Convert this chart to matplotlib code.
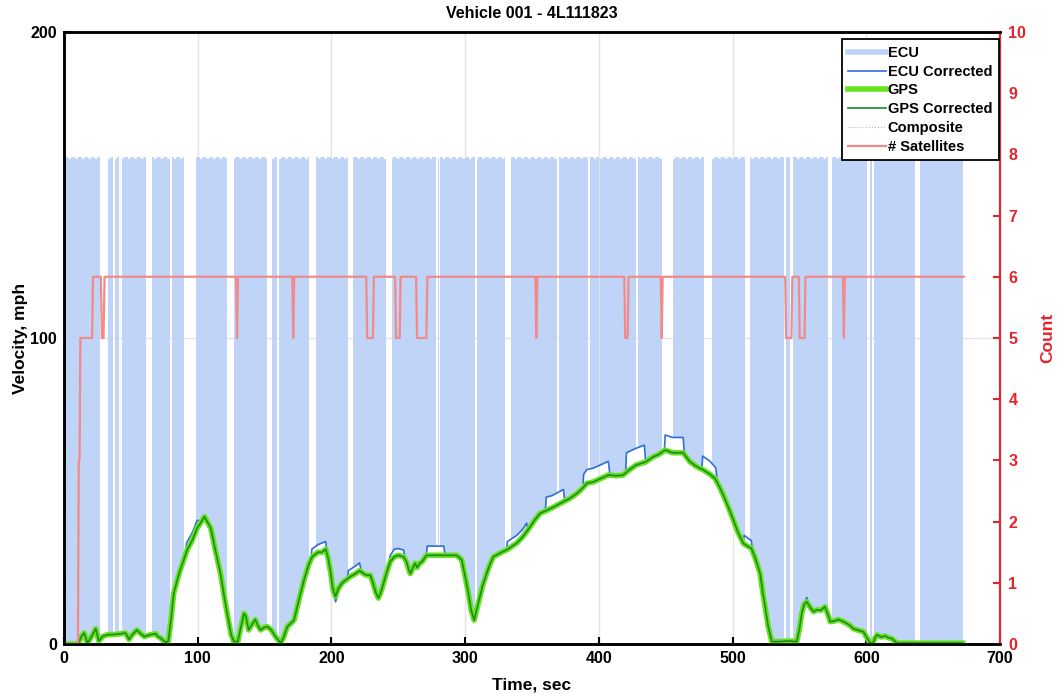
import numpy as np
import matplotlib
matplotlib.use('Agg')
from matplotlib import pyplot as plt
from matplotlib.path import Path
from matplotlib.patches import PathPatch

plt.rcParams['font.family'] = ['Liberation Sans', 'DejaVu Sans']
plt.rcParams['font.weight'] = 'bold'

# GPS speed trace (time [s], speed [mph])
gps = [(0, 0), (10, 0), (11, 0.5), (13, 2.5), (15, 3.6), (17.5, 0.3), (20, 2), (23.7, 5),
       (26, 1), (29, 2.5), (32, 3), (40, 3.2), (46, 3.6), (48.6, 1.5), (51, 3), (54.5, 4.6),
       (57, 3.5), (60, 2.4), (64, 3), (68.6, 3.4), (70, 2.5), (72, 2), (76, 0.5), (78, 1),
       (80, 8), (82, 16.6), (86, 23), (92, 30.7), (96, 34), (99.5, 37.9), (102, 39.5),
       (105, 41.6), (107, 40), (109.7, 37.9), (113, 31), (117, 23), (120, 15), (122, 10),
       (125, 3), (127, 0.8), (130, 0.8), (132, 5), (134.6, 10), (136, 9), (138, 4.6),
       (140, 6), (143, 8), (145, 6), (147, 4.6), (150, 5.5), (152, 5.7), (155, 4.6),
       (158, 2.5), (162, 0.3), (164, 2), (167, 5.7), (169, 6.5), (172, 7.8), (176, 15),
       (179.5, 21), (183, 26), (185.6, 28.5), (190, 30), (193, 30), (195.7, 31), (197.5, 28),
       (199.5, 23), (201, 18), (203, 15.5), (205, 18), (208, 20), (214, 22), (218, 23),
       (221, 24), (224, 23), (226, 22.5), (229, 22.5), (231, 20), (233, 17), (235, 15),
       (237, 17), (239, 20), (241, 23), (244, 27), (247, 28.5), (250, 29), (254, 28.5),
       (256, 27), (258, 24), (259, 23), (261, 25), (262.5, 26.4), (264, 25), (266, 26.4),
       (268, 27), (271, 29), (280, 29), (293.7, 29), (297.4, 27.5), (300, 22), (302.4, 16.6),
       (304.5, 11), (306.7, 7.8), (308.5, 11), (311, 15.5), (313, 19), (316, 23),
       (318.5, 26), (321, 28.5), (326, 29.7), (332, 31), (338.6, 33), (343, 35),
       (348.6, 38.3), (352, 40.5), (356, 42.7), (365, 44.5), (373.5, 46.5), (378, 47.5),
       (383.5, 49.2), (388, 51), (391, 52.5), (396, 53), (401, 54), (407, 55.2), (413, 55),
       (418, 55.2), (423, 57), (428, 58.5), (435, 59.5), (440.8, 61.2), (445, 62),
       (449.5, 63.4), (455, 62.5), (463, 62.5), (468, 59.6), (473, 58), (478, 56.9),
       (483, 55.5), (487, 54), (490, 51.5), (493, 48.7), (497, 44.5), (500.6, 40.5),
       (504, 36.5), (508, 32.9), (511, 32), (514, 31.3), (517, 28), (520.6, 23),
       (522.5, 17), (524.3, 12.2), (526.5, 6), (529.3, 0.8), (535, 0.8), (541, 1),
       (548, 0.8), (550, 5), (551.7, 10), (553.5, 13), (555.5, 13.8), (558, 12),
       (560.5, 10.6), (563.5, 11.2), (566, 11), (569, 12.2), (571, 10), (573, 7.3),
       (576, 7.5), (579, 8), (582, 7.5), (585, 6.8), (588, 6), (590, 5.1), (594, 4.5),
       (597.8, 4), (600.5, 2), (602.8, 0.3), (605, 0.3), (606.5, 2), (608, 3), (611, 2.3),
       (614, 2.6), (617, 2), (619, 1.8), (623, 0.3), (672, 0.3)]

# stretches where the corrected ECU speed departs from GPS
ecu_bumps = [
    [(91, 30.3), (91.6, 33), (96, 36.5), (99.5, 40.4), (101, 40.3)],
    [(184.8, 27.8), (185.3, 31), (190, 32.5), (195.7, 33.5), (196.6, 30)],
    [(202, 16.5), (203, 13.8), (204, 15)],
    [(212, 21.4), (212.6, 24), (218, 25.5), (221, 26.5), (222.3, 24)],
    [(242, 24.3), (242.6, 26.5), (244, 29), (247, 31), (250, 31.2), (254, 30.7), (255, 28)],
    [(271, 29), (271.6, 32), (284, 32), (285, 29)],
    [(331, 30.8), (331.6, 33.5), (338.6, 35.5), (343, 37.5), (346, 39.5), (346.7, 37.2)],
    [(360, 43.5), (360.6, 48), (365, 48.5), (373.5, 50.5), (374.5, 46.7)],
    [(388, 51), (388.6, 55.5), (391, 57), (396, 57.5), (401, 58.5), (407, 59.7), (408.3, 55.2)],
    [(420, 55.9), (420.6, 62.5), (428, 64), (434, 65), (435, 59.5)],
    [(449, 63.3), (449.6, 68.3), (455, 67.5), (463, 67.5), (464, 61.9)],
    [(477, 57.1), (477.6, 61.4), (483, 59.8), (487.5, 57.5), (488.5, 52.8)],
    [(508, 32.9), (508.6, 35.5), (514, 33.8), (515, 30.2)],
    [(554.3, 13.6), (555.5, 15.2), (556.7, 13.4)],
]

# raw ECU reads 255 km/h (158.4 mph) in these time bands
ecu_glitch = 158.4
ecu_bands = [(0, 27), (33, 36.5), (38, 41), (43, 61), (65.5, 79), (81, 90), (98.5, 122),
             (127, 151.5), (155.5, 159.5), (160.5, 183.5), (188.5, 212), (216, 241),
             (245, 278.5), (279.5, 280.5), (281.5, 307.5), (308.5, 330), (334, 369),
             (370, 392), (393, 400), (401, 428), (429, 447), (455.5, 478.5), (484.5, 509),
             (513, 538.5), (540, 543), (545, 571.5), (574.5, 600.5), (603, 604.5),
             (605.5, 636.5), (640, 672)]

# number of satellites
sat_time = [0, 10.4, 11.0, 11.6, 12.2, 21.0, 21.6, 27.5, 28.3, 29.5, 30.3,
            128.7, 129.4, 130.1, 170.7, 171.4, 172.1, 226.0, 226.7, 231.0, 231.7,
            247.6, 248.3, 251.0, 251.7, 263.3, 264.0, 271.0, 271.7, 352.5, 353.2, 354.0,
            419.0, 419.7, 421.5, 422.2, 446.3, 447.0, 447.7, 539.3, 540.0, 544.0, 544.7,
            549.5, 550.2, 553.8, 554.5, 582.5, 583.2, 583.9, 673]
sat_count = [0, 0, 3, 3, 5, 5, 6, 6, 5, 5, 6,
             6, 5, 6, 6, 5, 6, 6, 5, 5, 6,
             6, 5, 5, 6, 6, 5, 5, 6, 6, 5, 6,
             6, 5, 5, 6, 6, 5, 6, 6, 5, 5, 6,
             6, 5, 5, 6, 6, 5, 6, 6]

gps_t, gps_v = np.array(gps).T
in_bump = lambda t: any(seg[0][0] <= t <= seg[-1][0] for seg in ecu_bumps)
ecu = [p for p in gps if not in_bump(p[0])] + [p for seg in ecu_bumps for p in seg]
ecu_t, ecu_v = np.array(sorted(ecu)).T

red = '#e3242b'
c_ecu = '#bfd4f7'

fig = plt.figure(figsize=(10.57, 6.94), dpi=100)
ax = fig.add_axes([0.0606, 0.072, 0.8855, 0.882])
ax2 = ax.twinx()

ax.set_axisbelow(True)
ax.grid(True, color='#e4e4e4', lw=1)

# ECU raw: glitch spikes fill the band between the true speed and 158.4 mph
verts, codes = [], []
for t0, t1 in ecu_bands:
    verts += [(t0, -10), (t1, -10), (t1, 170), (t0, 170), (t0, -10)]
    codes += [Path.MOVETO, Path.LINETO, Path.LINETO, Path.LINETO, Path.CLOSEPOLY]
clip = PathPatch(Path(verts, codes), transform=ax.transData, fc='none', ec='none')

fill = ax.fill_between(ecu_t, ecu_v, ecu_glitch, color=c_ecu, lw=0, zorder=1)
fill.set_clip_path(clip)
# rounded tops of the individual spikes
teeth, = ax.plot([0, 672], [ecu_glitch, ecu_glitch], color=c_ecu, lw=3.5,
                 dashes=(0.9, 0.45), zorder=1)
teeth.set_clip_path(clip)
h_ecu, = ax.plot([], [], color=c_ecu, lw=4, label='ECU')

h_ecuc, = ax.plot(ecu_t, ecu_v, color='#2f6fd8', lw=1.2, zorder=3, label='ECU Corrected')
h_comp, = ax.plot(gps_t, gps_v, ':', color='#b8b8b8', lw=0.8, zorder=2, label='Composite')
h_gps, = ax.plot(gps_t, gps_v, color='#66e21e', lw=4, zorder=4, label='GPS')
h_gpsc, = ax.plot(gps_t, gps_v, color='#1d8a22', lw=1.2, zorder=5, label='GPS Corrected')

h_sat, = ax2.plot(sat_time, sat_count, color='#f28a8a', lw=1.6, label='# Satellites')

ax.set_xlim(0, 700)
ax.set_ylim(0, 200)
ax.set_xticks(range(0, 701, 100))
ax.set_yticks([0, 100, 200])
ax2.set_ylim(0, 10)
ax2.set_yticks(range(0, 11))

ax.tick_params(direction='in', length=5, width=1.5, labelsize=11.5, pad=5)
ax2.tick_params(direction='in', length=5, width=1.5, labelsize=11.5, colors=red, pad=6)
for a in (ax, ax2):
    for s in ('left', 'top', 'bottom'):
        a.spines[s].set_color('black')
        a.spines[s].set_linewidth(1.8)
    a.spines['right'].set_color(red)
    a.spines['right'].set_linewidth(1.5)
for lbl in ax.get_xticklabels() + ax.get_yticklabels() + ax2.get_yticklabels():
    lbl.set_fontweight('bold')

ax.set_title('Vehicle 001 - 4L111823', fontsize=11.5, fontweight='bold', pad=10)
ax.set_xlabel('Time, sec', fontsize=12.5, fontweight='bold', labelpad=8)
ax.set_ylabel('Velocity, mph', fontsize=12.5, fontweight='bold', labelpad=2)
ax2.set_ylabel('Count', fontsize=12.5, fontweight='bold', color=red, labelpad=10)

leg = ax2.legend([h_ecu, h_ecuc, h_gps, h_gpsc, h_comp, h_sat],
                 ['ECU', 'ECU Corrected', 'GPS', 'GPS Corrected', 'Composite', '# Satellites'],
                 loc='upper right', bbox_to_anchor=(0.9985, 0.988), borderaxespad=0,
                 fancybox=False, framealpha=1, edgecolor='black',
                 handlelength=2.6, handletextpad=0.1, labelspacing=0.33,
                 borderpad=0.45, prop={'weight': 'bold', 'size': 10.5})
leg.get_frame().set_linewidth(1.3)

fig.savefig('out.png', dpi=100)
